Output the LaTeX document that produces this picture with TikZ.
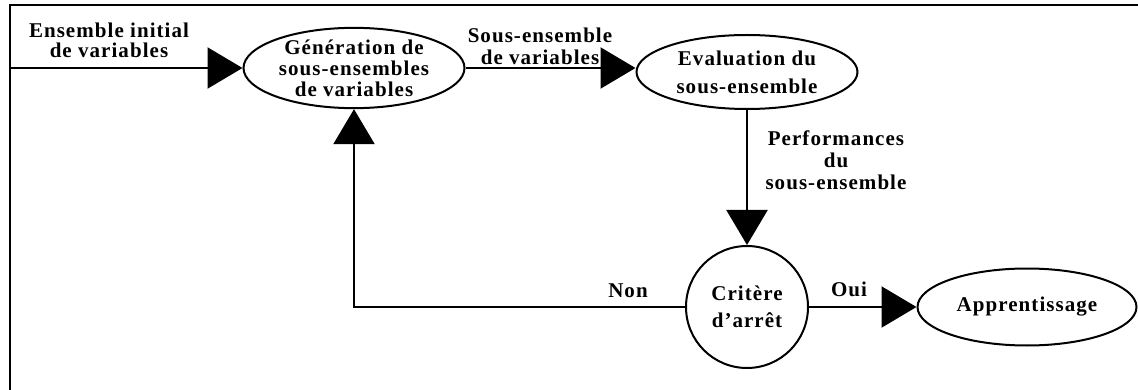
\documentclass[tikz,border=0pt]{standalone}
\usepackage{fontspec}
\setmainfont{Liberation Serif}[LetterSpace=5.0]
\usetikzlibrary{arrows.meta}
\usetikzlibrary{shapes.geometric}

\begin{document}
\begin{tikzpicture}[x=1pt, y=-1pt, >={Triangle[length=35pt,width=41pt]},
  txt/.style={font=\bfseries\fontsize{21}{#1}\selectfont, align=center, inner sep=0pt},
  txt/.default=22,
  oval/.style={ellipse, draw, line width=2pt, minimum width=221pt, minimum height=77pt, inner sep=0pt}]
\useasboundingbox (0,0) rectangle (1138,390);
\draw [line width=2pt] (1138,5) -- (10,5) -- (10,390);

\node [oval, txt=21] (gen) at (354,68) {Génération de\\sous-ensembles\\de variables};
\node [oval, txt=28, minimum height=74pt] (eval) at (747,72) {Evaluation du\\sous-ensemble};
\node [circle, draw, line width=2pt, minimum size=122pt, txt=27] (crit) at (747,307) {Critère\\d'arrêt};
\node [oval, txt, minimum width=219pt] (app) at (1027,307) {Apprentissage};
\coordinate (in) at (10,68);

\node [txt=20] (init) at (109,40) {Ensemble initial\\de variables};
\node [txt] (sub) at (540,46) {Sous-ensemble\\de variables};
\node [txt] (perf) at (836,160) {Performances\\du\\sous-ensemble};
\node [txt] (non) at (628,291) {Non};
\node [txt] (oui) at (849,289) {Oui};

\begin{scope}[line width=2.2pt]
  \draw [->] (in) -- (gen.west);
  \draw [->] (gen.east) -- (gen.east -| eval.west);
  \draw [->] (eval.south) -- (crit.north);
  \draw [->] (crit.west) -| (gen.south);
  \draw [->] (crit.east) -- (app.west);
\end{scope}
\end{tikzpicture}
\end{document}
